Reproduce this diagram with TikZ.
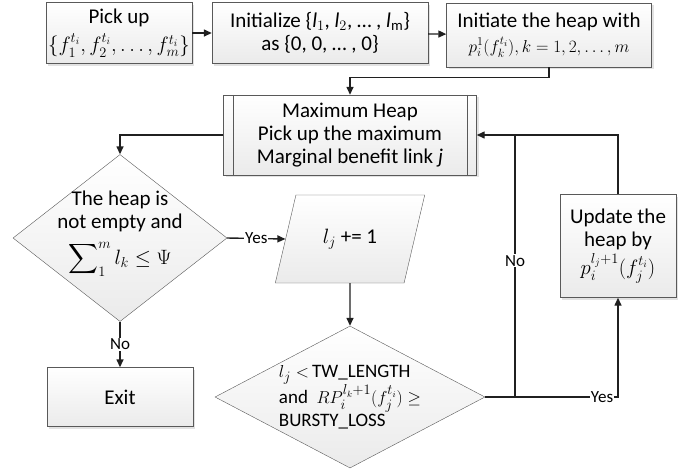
\documentclass[tikz,border=0pt]{standalone}
\usepackage{exscale}
\usepackage{fontspec}
\setmainfont{Carlito}
\usetikzlibrary{shapes.geometric,arrows.meta,shadows}
\newcommand{\mathline}{\fontsize{18}{22}\selectfont}
\newcommand{\mathbig}{\fontsize{20}{22}\selectfont}
\begin{document}
\begin{tikzpicture}[x=1pt,y=-1pt,
						every node/.style={align=center,font=\fontsize{21}{23}\selectfont}]
						\tikzstyle{box}=[draw=gray!70!black,thin,top color=white,bottom color=gray!16,
							drop shadow={shadow xshift=2pt,shadow yshift=-2pt,fill=gray!45},inner sep=1pt];
						\tikzstyle{decision}=[draw=gray!70!black,thin,diamond,top color=white,bottom color=gray!16,inner sep=0pt];
						\tikzstyle{io}=[draw=gray!70!black,thin,trapezium,trapezium left angle=63,trapezium right angle=117,
							trapezium stretches=true,top color=white,bottom color=gray!16,inner sep=0pt];
						\tikzstyle{arrow}=[draw=gray!25!black,line width=1.4pt,-{Triangle[length=8pt,width=7pt]}];
						\tikzstyle{line}=[draw=gray!25!black,line width=1.4pt];
						\tikzstyle{lbl}=[fill=white,inner sep=1pt,font=\fontsize{17}{19}\selectfont];
						\useasboundingbox (0,0) rectangle (695,475);
						\node[box,minimum width=146pt,minimum height=61pt] (pick) at (119,33) {Pick up\\[5pt]{\mathbig$\{f_1^{t_i},f_2^{t_i},\ldots,f_m^{t_i}\}$}};
						\node[box,minimum width=216pt,minimum height=61pt] (init) at (320,33) {Initialize \{\textit{l}$_1$, \textit{l}$_2$, \ldots\ , \textit{l}$_{\mathrm{m}}$\}\\as \{0, 0, \ldots\ , 0\}};
						\node[box,minimum width=205pt,minimum height=64pt] (heap) at (549,35) {Initiate the heap with\\[2pt]{\mathline$p_i^1(f_k^{t_i}),k=1,2,\ldots,m$}};
						\node[box,minimum width=253pt,minimum height=80pt] (maxheap) at (350,135) {Maximum Heap\\Pick up the maximum\\Marginal benefit link \textit{j}};
						\node[decision,minimum width=214pt,minimum height=167pt,
							label={[align=center,yshift=4pt]center:The heap is\\not empty and\\[9pt]$\displaystyle\sum\nolimits_1^m l_k\le\Psi$}] (cond) at (120,238) {};
						\node[io,minimum width=150pt,minimum height=88pt] (incr) at (350,239) {$l_j$ += 1};
						\node[decision,minimum width=270pt,minimum height=142pt,
							label={[align=left,font=\fontsize{19}{23}\selectfont]center:$l_j<$\,TW\_LENGTH\\and\ \ $RP_i^{l_k+1}(f_j^{t_i})\ge$\\BURSTY\_LOSS}] (check) at (350,397) {};
						\node[box,minimum width=116pt,minimum height=103pt] (update) at (618,246) {Update the\\heap by\\[2pt]{\mathbig$p_i^{l_j+1}(f_j^{t_i})$}};
						\node[box,minimum width=146pt,minimum height=59pt] (exit) at (120,397) {Exit};
						\draw[draw=gray!70!black,thin] ([xshift=10pt]maxheap.north west) -- ([xshift=10pt]maxheap.south west);
						\draw[draw=gray!70!black,thin] ([xshift=-10pt]maxheap.north east) -- ([xshift=-10pt]maxheap.south east);
						\coordinate (join) at (515,397);
						\draw[arrow] (pick) -- (init);
						\draw[arrow] (init) -- (heap);
						\draw[arrow] (heap.south) -- ++(0,10) -| (maxheap.north);
						\draw[arrow] (maxheap.west) -| (cond.north);
						\draw[arrow] (cond.east) -- node[lbl]{Yes} (incr.west);
						\draw[arrow] (cond.south) -- node[lbl]{No} (exit.north);
						\draw[arrow] (incr.south) -- (check.north);
						\draw[arrow] (check.east) -| node[lbl,pos=.44]{Yes} (update.south);
						\draw[line] (update.north) |- (join |- maxheap.east);
						\draw[arrow] (join) |- node[lbl,pos=.26]{No} (maxheap.east);
					\end{tikzpicture}
\end{document}
